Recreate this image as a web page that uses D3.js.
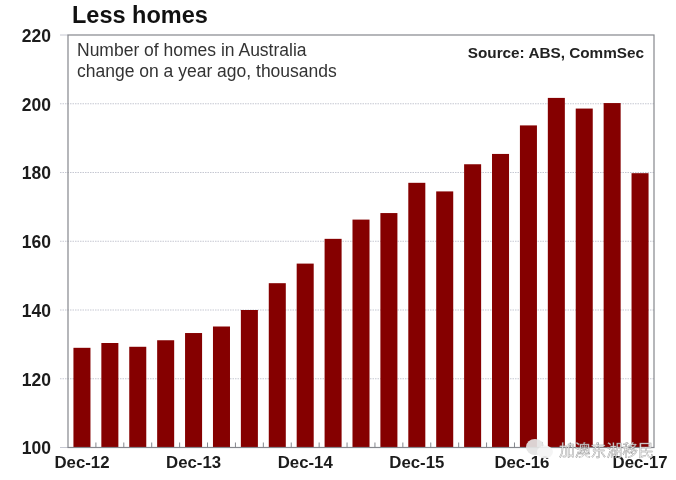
<!DOCTYPE html>
<html><head><meta charset="utf-8">
<script src="https://cdn.jsdelivr.net/npm/d3@7/dist/d3.min.js"></script>
<style>html,body{margin:0;padding:0;background:#fff}svg{display:block}text{font-family:"Liberation Sans",Arial,sans-serif}</style>
</head><body><svg id="c" width="676" height="480"></svg>
<script>
const categories=["Dec-12","Mar-13","Jun-13","Sep-13","Dec-13","Mar-14","Jun-14","Sep-14","Dec-14","Mar-15","Jun-15","Sep-15","Dec-15","Mar-16","Jun-16","Sep-16","Dec-16","Mar-17","Jun-17","Sep-17","Dec-17"];
const values=[129,130.4,129.3,131.2,133.3,135.2,140,147.8,153.5,160.7,166.3,168.2,177,174.5,182.4,185.4,193.7,201.7,198.6,200.2,179.8];
const yTicks=[100,120,140,160,180,200,220];
const xLabels=["Dec-12","Dec-13","Dec-14","Dec-15","Dec-16","Dec-17"];
const title="Less homes";
const subtitle=["Number of homes in Australia","change on a year ago, thousands"];
const source="Source: ABS, CommSec";
const watermark="加澳东湖移民";

const L=68,R=654,T=35,B=447.5;
const svg=d3.select("#c");
const x=d3.scaleBand().domain(categories).range([L,R]).paddingInner(0.39).paddingOuter(0.195);
const y=d3.scaleLinear().domain([100,220]).range([B,T]);
const g=svg.append("g").style("filter","blur(0.4px)");

// gridlines
g.append("g").selectAll("line").data(yTicks.filter(d=>d>100&&d<220)).join("line")
 .attr("x1",L-8).attr("x2",R).attr("y1",d=>y(d)).attr("y2",d=>y(d))
 .attr("stroke","#c6c8d2").attr("stroke-width",1).attr("stroke-dasharray","1.5 1");
g.append("g").selectAll("line").data([100,220]).join("line")
 .attr("x1",L-8).attr("x2",L).attr("y1",d=>y(d)).attr("y2",d=>y(d)).attr("stroke","#c6c8d2");

// bars
g.append("g").selectAll("rect").data(values).join("rect")
 .attr("x",(d,i)=>x(categories[i])).attr("width",x.bandwidth())
 .attr("y",d=>y(d)).attr("height",d=>y(100)-y(d)).attr("fill","#850000");

// frame
g.append("rect").attr("x",L).attr("y",T).attr("width",R-L).attr("height",B-T)
 .attr("fill","none").attr("stroke","#85878d").attr("stroke-width",1.2);

// minor ticks between bars
const step=x.step();
g.append("g").selectAll("line").data(categories.slice(1)).join("line")
 .attr("x1",d=>x(d)-(step-x.bandwidth())/2).attr("x2",d=>x(d)-(step-x.bandwidth())/2)
 .attr("y1",B).attr("y2",B-5).attr("stroke","#85878d");

// y axis
const ya=g.append("g").attr("transform",`translate(${L-17},0)`)
 .call(d3.axisLeft(y).tickValues(yTicks).tickSize(0).tickPadding(0));
ya.select(".domain").remove();
ya.selectAll("text").style("font-family",'"Liberation Sans",Arial,sans-serif').style("font-size","17.5px").style("font-weight","bold").attr("fill","#1c1c1c").attr("dy","0.36em");

// x axis
const xa=g.append("g").attr("transform",`translate(0,${B})`)
 .call(d3.axisBottom(x).tickValues(xLabels).tickSize(0).tickPadding(9));
xa.select(".domain").remove();
xa.selectAll("text").style("font-family",'"Liberation Sans",Arial,sans-serif').style("font-size","16.8px").style("font-weight","bold").attr("fill","#1c1c1c")
 .attr("dx",d=>d==="Dec-16"?-6.5:0);

// titles
g.append("text").attr("x",72).attr("y",23).attr("font-size","23.5px").attr("font-weight","bold").attr("fill","#111").text(title);
g.append("g").selectAll("text").data(subtitle).join("text")
 .attr("x",77).attr("y",(d,i)=>56+i*21).attr("font-size","17.5px").attr("fill","#333").text(d=>d);
g.append("text").attr("x",644).attr("y",58).attr("text-anchor","end").attr("font-size","15.3px").attr("font-weight","bold").attr("fill","#222").text(source);

// watermark
const w=svg.append("g").attr("opacity",0.92);
w.append("ellipse").attr("cx",535).attr("cy",447).attr("rx",9).attr("ry",8).attr("fill","#e4e4e4");
w.append("ellipse").attr("cx",545).attr("cy",452).attr("rx",8).attr("ry",6.5).attr("fill","#f4f4f4");
w.append("text").attr("x",559).attr("y",456).attr("font-size","15.8px").attr("fill","#f0f0f0").attr("stroke","#8a8a8a").attr("stroke-width",0.4)
 .style("font-family",'"Noto Sans CJK SC",sans-serif').text(watermark);
</script></body></html>
